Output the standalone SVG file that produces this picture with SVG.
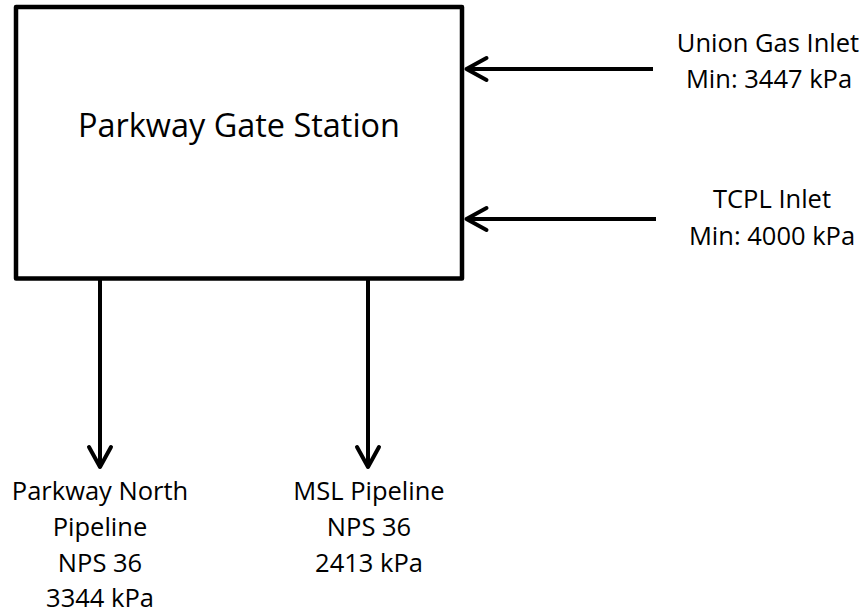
<svg xmlns="http://www.w3.org/2000/svg" width="867" height="615" viewBox="0 0 867 615">
<style>
.box{fill:#fff;stroke:#000;stroke-width:4.5;stroke-linejoin:round}
.conn{stroke:#000;stroke-width:4;fill:none}
.title{font-family:"Open Sans","Liberation Sans",sans-serif;font-size:32px;fill:#000;text-anchor:middle}
.lbl{font-family:"Open Sans","Liberation Sans",sans-serif;font-size:25.5px;fill:#000;text-anchor:middle}
</style>
<defs>
<marker id="arr" markerUnits="userSpaceOnUse" viewBox="-26 -15 30 30" refX="0" refY="0" markerWidth="30" markerHeight="30" orient="auto">
<path d="M -20 -11 L 0 0 L -20 11" fill="none" stroke="#000" stroke-width="4" stroke-linecap="round" stroke-linejoin="round"/>
</marker>
</defs>
<rect width="867" height="615" fill="#fff"/>
<g id="station">
<rect class="box" x="16" y="7" width="446" height="271.5"/>
<text class="title" x="239" y="137" textLength="322" lengthAdjust="spacingAndGlyphs">Parkway Gate Station</text>
</g>
<g id="union-gas-inlet">
<text class="lbl" x="768" y="52">Union Gas Inlet</text>
<text class="lbl" x="769" y="88">Min: 3447 kPa</text>
</g>
<g id="tcpl-inlet">
<text class="lbl" x="772" y="208">TCPL Inlet</text>
<text class="lbl" x="772" y="245">Min: 4000 kPa</text>
</g>
<g id="parkway-north">
<text class="lbl" x="100" y="500">Parkway North</text>
<text class="lbl" x="100" y="536">Pipeline</text>
<text class="lbl" x="100" y="572">NPS 36</text>
<text class="lbl" x="100" y="607">3344 kPa</text>
</g>
<g id="msl-pipeline">
<text class="lbl" x="369" y="500">MSL Pipeline</text>
<text class="lbl" x="369" y="536">NPS 36</text>
<text class="lbl" x="369" y="572">2413 kPa</text>
</g>
<g id="connectors">
<line class="conn" x1="653" y1="69" x2="466.5" y2="69" marker-end="url(#arr)"/>
<line class="conn" x1="656" y1="219" x2="466.5" y2="219" marker-end="url(#arr)"/>
<line class="conn" x1="100" y1="280" x2="100" y2="467" marker-end="url(#arr)"/>
<line class="conn" x1="368" y1="280" x2="368" y2="467" marker-end="url(#arr)"/>
</g>
</svg>
